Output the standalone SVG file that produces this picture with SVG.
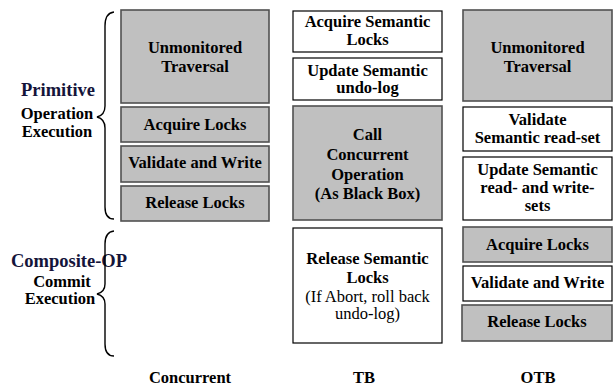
<svg xmlns="http://www.w3.org/2000/svg" width="616" height="388" viewBox="0 0 616 388">
  <style>
    .g { fill: #c0c0c0; stroke: #505050; stroke-width: 1.6; }
    .w { fill: #ffffff; stroke: #000000; stroke-width: 1.2; }
    text { font-family: "Liberation Serif", "Times New Roman", serif; text-anchor: middle; fill: #000; }
    .b { font-weight: bold; font-size: 16.5px; }
    .r { font-size: 16.5px; }
    .hd { font-weight: bold; font-size: 18.5px; fill: #14143a; }
    .brace { fill: none; stroke: #000; stroke-width: 1.4; }
  </style>
  <rect width="616" height="388" fill="#ffffff"/>

  <!-- side labels with braces -->
  <g id="primitive-label">
    <text class="hd" x="58" y="96">Primitive</text>
    <text class="b" x="57" y="119">Operation</text>
    <text class="b" x="57" y="137">Execution</text>
  </g>
  <g id="composite-label">
    <text class="hd" x="69" y="267">Composite-OP</text>
    <text class="b" x="62" y="287">Commit</text>
    <text class="b" x="60" y="304">Execution</text>
  </g>
  <g id="braces">
    <path class="brace" d="M114,12 Q105,13 105,26 L105,106 Q105,115 97,117 Q105,119 105,128 L105,207 Q105,219 114,219"/>
    <path class="brace" d="M114,231 Q105,232 105,244 L105,284 Q105,292 97,294 Q105,296 105,304 L105,344 Q105,356 114,356"/>
  </g>

  <!-- Concurrent column -->
  <g id="c-traversal">
    <rect class="g" x="121" y="10" width="148" height="93"/>
    <text class="b" x="195" y="53">Unmonitored</text>
    <text class="b" x="195" y="72">Traversal</text>
  </g>
  <g id="c-acquire">
    <rect class="g" x="121" y="107" width="148" height="35"/>
    <text class="b" x="195" y="130">Acquire Locks</text>
  </g>
  <g id="c-validate">
    <rect class="g" x="121" y="146" width="148" height="36"/>
    <text class="b" x="195" y="168">Validate and Write</text>
  </g>
  <g id="c-release">
    <rect class="g" x="121" y="186" width="148" height="35"/>
    <text class="b" x="195" y="208">Release Locks</text>
  </g>

  <!-- TB column -->
  <g id="tb-acquire">
    <rect class="w" x="293" y="11" width="149" height="41"/>
    <text class="b" x="367.5" y="27">Acquire Semantic</text>
    <text class="b" x="367.5" y="45">Locks</text>
  </g>
  <g id="tb-undo">
    <rect class="w" x="293" y="58" width="149" height="42"/>
    <text class="b" x="367.5" y="76">Update Semantic</text>
    <text class="b" x="367.5" y="93">undo-log</text>
  </g>
  <g id="tb-call">
    <rect class="g" x="293" y="106" width="149" height="114"/>
    <text class="b" x="367.5" y="140">Call</text>
    <text class="b" x="367.5" y="160">Concurrent</text>
    <text class="b" x="367.5" y="180">Operation</text>
    <text class="b" x="367.5" y="199">(As Black Box)</text>
  </g>
  <g id="tb-release">
    <rect class="w" x="293" y="228" width="149" height="115"/>
    <text class="b" x="367.5" y="264">Release Semantic</text>
    <text class="b" x="367.5" y="283">Locks</text>
    <text class="r" x="367.5" y="302">(If Abort, roll back</text>
    <text class="r" x="367.5" y="319">undo-log)</text>
  </g>

  <!-- OTB column -->
  <g id="otb-traversal">
    <rect class="g" x="463" y="10" width="149" height="91"/>
    <text class="b" x="537.5" y="53">Unmonitored</text>
    <text class="b" x="537.5" y="72">Traversal</text>
  </g>
  <g id="otb-readset">
    <rect class="w" x="463" y="107" width="149" height="44"/>
    <text class="b" x="537.5" y="125">Validate</text>
    <text class="b" x="537.5" y="143">Semantic read-set</text>
  </g>
  <g id="otb-update">
    <rect class="w" x="463" y="157" width="149" height="63"/>
    <text class="b" x="537.5" y="175">Update Semantic</text>
    <text class="b" x="537.5" y="193">read- and write-</text>
    <text class="b" x="537.5" y="211">sets</text>
  </g>
  <g id="otb-acquire">
    <rect class="g" x="463" y="227" width="149" height="35"/>
    <text class="b" x="537.5" y="250">Acquire Locks</text>
  </g>
  <g id="otb-validate">
    <rect class="w" x="463" y="266" width="149" height="35"/>
    <text class="b" x="537.5" y="288">Validate and Write</text>
  </g>
  <g id="otb-release">
    <rect class="g" x="462" y="305" width="150" height="36"/>
    <text class="b" x="537" y="327">Release Locks</text>
  </g>

  <!-- column captions -->
  <g id="captions">
    <text class="b" x="190" y="383">Concurrent</text>
    <text class="b" x="364" y="383">TB</text>
    <text class="b" x="538" y="383">OTB</text>
  </g>
  <g id="connectors"/>
</svg>
